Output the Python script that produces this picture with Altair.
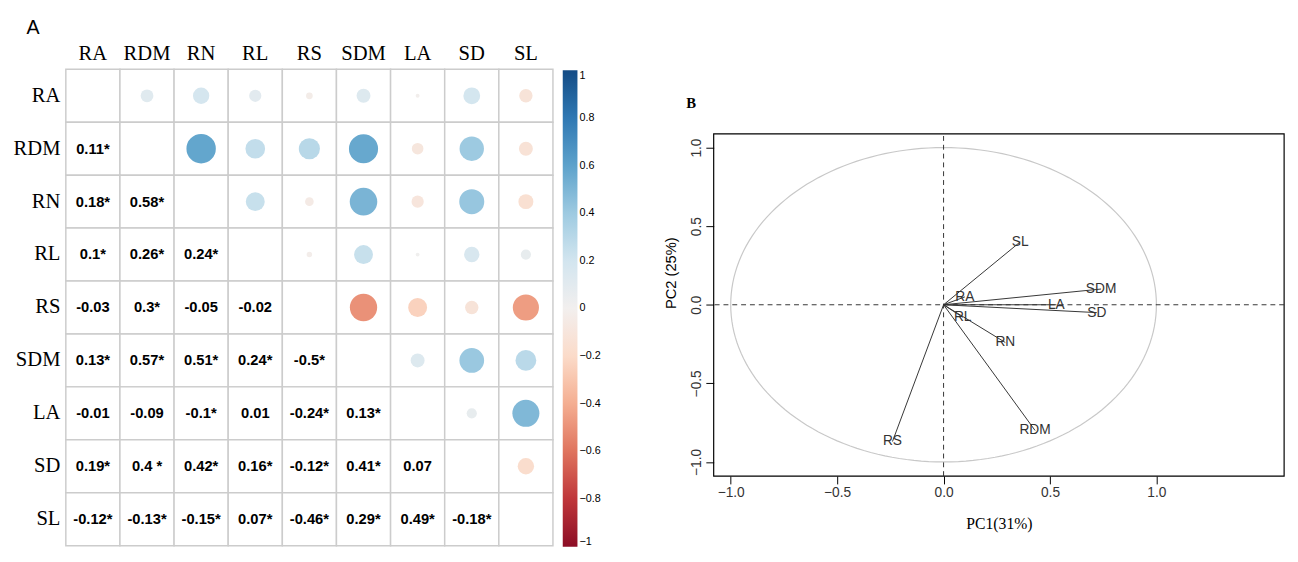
import numpy as np
import pandas as pd
import altair as alt

traits = ["RA", "RDM", "RN", "RL", "RS", "SDM", "LA", "SD", "SL"]
# lower triangle correlations, row by row
lower = [
    [],
    [0.11],
    [0.18, 0.58],
    [0.10, 0.26, 0.24],
    [-0.03, 0.30, -0.05, -0.02],
    [0.13, 0.57, 0.51, 0.24, -0.50],
    [-0.01, -0.09, -0.10, 0.01, -0.24, 0.13],
    [0.19, 0.40, 0.42, 0.16, -0.12, 0.41, 0.07],
    [-0.12, -0.13, -0.15, 0.07, -0.46, 0.29, 0.49, -0.18],
]
labels = [
    [],
    ["0.11*"],
    ["0.18*", "0.58*"],
    ["0.1*", "0.26*", "0.24*"],
    ["-0.03", "0.3*", "-0.05", "-0.02"],
    ["0.13*", "0.57*", "0.51*", "0.24*", "-0.5*"],
    ["-0.01", "-0.09", "-0.1*", "0.01", "-0.24*", "0.13*"],
    ["0.19*", "0.4 *", "0.42*", "0.16*", "-0.12*", "0.41*", "0.07"],
    ["-0.12*", "-0.13*", "-0.15*", "0.07*", "-0.46*", "0.29*", "0.49*", "-0.18*"],
]

pca_vars = ["SL", "SDM", "LA", "SD", "RA", "RL", "RN", "RDM", "RS"]
pc1 = [0.36, 0.74, 0.53, 0.72, 0.10, 0.09, 0.29, 0.43, -0.24]
pc2 = [0.40, 0.10, 0.00, -0.05, 0.05, -0.08, -0.24, -0.80, -0.87]

cells, circles, texts = [], [], []
for i, r in enumerate(traits):
    for j, c in enumerate(traits):
        cells.append({"row": r, "col": c})
        if j < i:
            texts.append({"row": r, "col": c, "lab": labels[i][j]})
        elif j > i:
            v = lower[j][i]
            circles.append({"row": r, "col": c, "r": v, "a": abs(v)})

xs = alt.X("col:N", sort=traits, scale=alt.Scale(paddingInner=0, paddingOuter=0),
           axis=alt.Axis(orient="top", title=None, labelAngle=0, ticks=False, domain=False,
                         labelFont="Liberation Serif", labelFontSize=21, labelColor="black", labelPadding=6))
ys = alt.Y("row:N", sort=traits, scale=alt.Scale(paddingInner=0, paddingOuter=0),
           axis=alt.Axis(title=None, ticks=False, domain=False, labelFont="Liberation Serif",
                         labelFontSize=21, labelColor="black", labelPadding=6))

grid = alt.Chart(pd.DataFrame(cells)).mark_rect(fill="white", stroke="#cccccc", strokeWidth=1.5).encode(x=xs, y=ys)
circ = alt.Chart(pd.DataFrame(circles)).mark_circle(opacity=1).encode(
    x=xs, y=ys,
    size=alt.Size("a:Q", scale=alt.Scale(domain=[0, 1], range=[0, 1550]), legend=None),
    color=alt.Color("r:Q", scale=alt.Scale(scheme="redblue", domain=[-1, 1]),
                    legend=alt.Legend(title=None, values=[-1, -0.8, -0.6, -0.4, -0.2, 0, 0.2, 0.4, 0.6, 0.8, 1],
                                      format=".1~f", orient="none", legendX=507, legendY=1,
                                      gradientLength=486, gradientThickness=15, labelFontSize=11,
                                      labelFont="Liberation Sans", gradientStrokeColor="black")),
)
txt = alt.Chart(pd.DataFrame(texts)).mark_text(fontWeight="bold", fontSize=15, font="Liberation Sans").encode(
    x=xs, y=ys, text="lab:N")
tag_a = alt.Chart(pd.DataFrame({"t": ["A"]})).mark_text(
    font="Liberation Sans", fontSize=20, align="left").encode(x=alt.value(-40), y=alt.value(-42), text="t:N")

panel_a = alt.layer(grid, circ, txt, tag_a).properties(width=497, height=486)

pca = pd.DataFrame({"var": pca_vars, "pc1": pc1, "pc2": pc2, "x0": 0.0, "y0": 0.0})
xsc = alt.Scale(domain=[-1.08, 1.6], nice=False)
ysc = alt.Scale(domain=[-1.09, 1.498], nice=False)
ax_x = alt.Axis(values=[-1, -0.5, 0, 0.5, 1], format=".1f", grid=False, domain=False, tickSize=8,
                tickColor="black", labelFontSize=14, labelFont="Liberation Sans", labelColor="#333",
                title="PC1(31%)", titleFont="Liberation Serif", titleFontSize=16, titleFontWeight="normal",
                titlePadding=16)
ax_y = alt.Axis(values=[-1, -0.5, 0, 0.5, 1], format=".1f", grid=False, domain=False, tickSize=8,
                tickColor="black", labelFontSize=14, labelFont="Liberation Sans", labelColor="#333",
                labelAngle=-90, labelAlign="center", labelBaseline="bottom",
                title="PC2 (25%)", titleFont="Liberation Sans", titleFontSize=15, titleFontWeight="normal",
                titlePadding=12)

t = np.linspace(0, 2 * np.pi, 181)
circle_df = pd.DataFrame({"x": np.cos(t), "y": np.sin(t), "o": np.arange(181)})
ring = alt.Chart(circle_df).mark_line(color="#c8c8c8", strokeWidth=1.2).encode(
    x=alt.X("x:Q", scale=xsc, axis=ax_x), y=alt.Y("y:Q", scale=ysc, axis=ax_y), order="o:Q")
frame = alt.Chart(pd.DataFrame({"x": [-1.08], "x2": [1.6], "y": [-1.09], "y2": [1.087]})).mark_rect(
    fill=None, stroke="black", strokeWidth=1.2).encode(
    x=alt.X("x:Q", scale=xsc), x2="x2:Q", y=alt.Y("y:Q", scale=ysc), y2="y2:Q")
zero = pd.DataFrame({"v": [0.0], "lo": [-1.09], "hi": [1.087]})
vline = alt.Chart(zero).mark_rule(strokeDash=[5, 4], color="#333").encode(
    x=alt.X("v:Q", scale=xsc), y=alt.Y("lo:Q", scale=ysc), y2="hi:Q")
hline = alt.Chart(zero).mark_rule(strokeDash=[5, 4], color="#333").encode(y=alt.Y("v:Q", scale=ysc))
arrows = alt.Chart(pca).mark_rule(color="#333", strokeWidth=1).encode(
    x=alt.X("x0:Q", scale=xsc), y=alt.Y("y0:Q", scale=ysc), x2="pc1:Q", y2="pc2:Q")
names = alt.Chart(pca).mark_text(fontSize=14, font="Liberation Sans", color="#333").encode(
    x=alt.X("pc1:Q", scale=xsc), y=alt.Y("pc2:Q", scale=ysc), text="var:N")
tag_b = alt.Chart(pd.DataFrame({"t": ["B"]})).mark_text(
    font="Liberation Serif", fontSize=15, fontWeight="bold", align="left").encode(
    x=alt.value(-28), y=alt.value(34), text="t:N")

panel_b = alt.layer(ring, frame, vline, hline, arrows, names, tag_b).properties(width=582, height=415)

chart = alt.hconcat(panel_a, panel_b, spacing=112).configure_view(stroke=None)
chart.save("out.html", embed_options={"renderer": "svg", "actions": False})
